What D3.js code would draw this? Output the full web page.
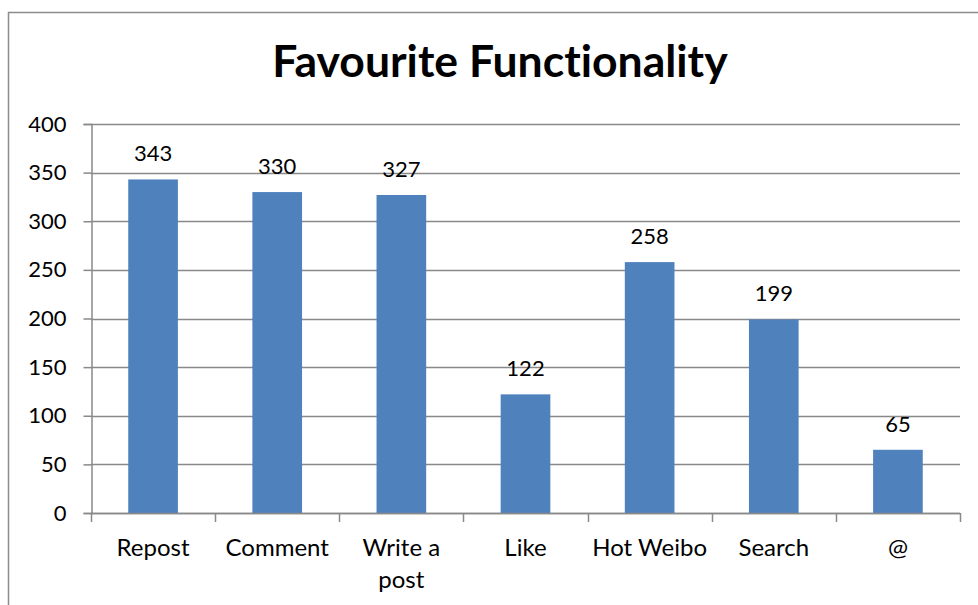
<!DOCTYPE html>
<html>
<head>
<meta charset="utf-8">
<script src="https://cdn.jsdelivr.net/npm/d3@7"></script>
<style>
  html, body { margin: 0; padding: 0; background: #fff; }
  svg { display: block; }
  text { font-family: Lato, "Open Sans", sans-serif; fill: #000; font-variant-ligatures: none; }
</style>
</head>
<body>
<svg id="chart" width="978" height="605"></svg>
<script>
// Survey answers: which Weibo feature respondents like most
const categories = ["Repost", "Comment", "Write a post", "Like", "Hot Weibo", "Search", "@"];
const counts = [343, 330, 327, 122, 258, 199, 65];
const yTicks = [0, 50, 100, 150, 200, 250, 300, 350, 400];
const title = "Favourite Functionality";

const svg = d3.select("#chart");
const plot = { left: 91, right: 960, top: 124, bottom: 513 };
const gridColor = "#898989";
const barColor = "#4F81BD";

// Outer chart frame
svg.append("rect")
  .attr("x", 8.5).attr("y", 12.5)
  .attr("width", 1000).attr("height", 700)
  .attr("fill", "none").attr("stroke", "#8c8c8c").attr("stroke-width", 1.5);

const x = d3.scaleBand()
  .domain(categories)
  .range([plot.left, plot.right])
  .paddingInner(0.6)
  .paddingOuter(0.3);

const y = d3.scaleLinear()
  .domain([0, 400])
  .range([plot.bottom, plot.top]);

// Horizontal gridlines
svg.append("g")
  .selectAll("line")
  .data(yTicks)
  .join("line")
  .attr("x1", plot.left).attr("x2", plot.right)
  .attr("y1", d => Math.round(y(d)) + 0.5).attr("y2", d => Math.round(y(d)) + 0.5)
  .attr("stroke", gridColor).attr("stroke-width", 1.5);

// Y axis
const yAxis = svg.append("g")
  .attr("transform", `translate(${plot.left + 0.5},0)`)
  .call(d3.axisLeft(y).tickValues(yTicks).tickSize(8).tickPadding(17));
yAxis.select(".domain").attr("stroke", gridColor).attr("stroke-width", 1.5);
yAxis.selectAll(".tick line").attr("stroke", gridColor).attr("stroke-width", 1.5);
yAxis.selectAll(".tick text")
  .style("font-size", "22px").style("font-family", "Lato, sans-serif").attr("fill", "#000");

// Bars
svg.append("g")
  .selectAll("rect")
  .data(categories)
  .join("rect")
  .attr("x", d => x(d))
  .attr("width", x.bandwidth())
  .attr("y", (d, i) => y(counts[i]))
  .attr("height", (d, i) => y(0) - y(counts[i]))
  .attr("fill", barColor);

// X axis: ticks sit on category boundaries
const boundaries = d3.range(categories.length + 1).map(i => plot.left + i * (plot.right - plot.left) / categories.length);
const xAxis = svg.append("g");
xAxis.append("line")
  .attr("x1", plot.left).attr("x2", plot.right)
  .attr("y1", plot.bottom + 0.5).attr("y2", plot.bottom + 0.5)
  .attr("stroke", gridColor).attr("stroke-width", 1.5);
xAxis.selectAll("line.tick")
  .data(boundaries)
  .join("line")
  .attr("class", "tick")
  .attr("x1", d => Math.round(d) + 0.5).attr("x2", d => Math.round(d) + 0.5)
  .attr("y1", plot.bottom).attr("y2", plot.bottom + 9)
  .attr("stroke", gridColor).attr("stroke-width", 1.5);

// Category labels (long names wrap to two lines)
const labelLines = { "Write a post": ["Write a", "post"] };
const catLabels = svg.append("g")
  .selectAll("text")
  .data(categories)
  .join("text")
  .attr("x", d => x(d) + x.bandwidth() / 2)
  .attr("y", 556)
  .attr("text-anchor", "middle")
  .style("font-size", "24px");
catLabels.each(function(d) {
  const lines = labelLines[d] || [d];
  const t = d3.select(this);
  lines.forEach((ln, i) => {
    t.append("tspan")
      .attr("x", x(d) + x.bandwidth() / 2)
      .attr("dy", i === 0 ? 0 : 32)
      .text(ln);
  });
});

// Value labels above bars
svg.append("g")
  .selectAll("text")
  .data(categories)
  .join("text")
  .attr("x", d => x(d) + x.bandwidth() / 2)
  .attr("y", (d, i) => y(counts[i]) - 18)
  .attr("text-anchor", "middle")
  .style("font-size", "22px")
  .text((d, i) => counts[i]);

// Title
svg.append("text")
  .attr("x", 500).attr("y", 77)
  .attr("text-anchor", "middle")
  .style("font-size", "44.5px")
  .style("font-weight", "bold")
  .text(title);
</script>
</body>
</html>
